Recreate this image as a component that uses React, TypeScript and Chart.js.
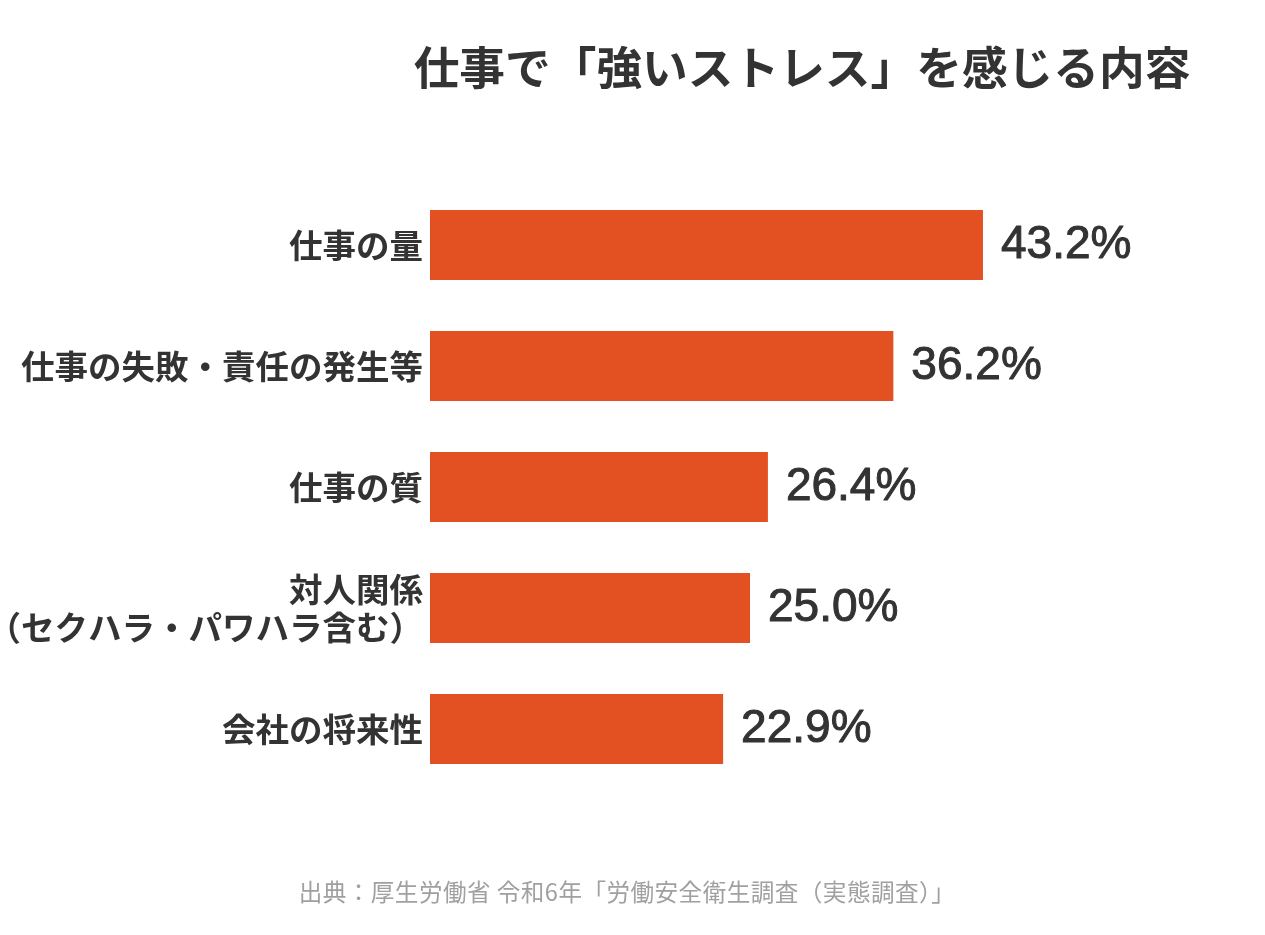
import React, { useEffect, useRef } from "react";
import { Chart, registerables } from "chart.js";

Chart.register(...registerables);

const categories: (string | string[])[] = [
  "仕事の量",
  "仕事の失敗・責任の発生等",
  "仕事の質",
  ["対人関係", "（セクハラ・パワハラ含む）"],
  "会社の将来性",
];
const values = [43.2, 36.2, 26.4, 25.0, 22.9];
const valueLabels = ["43.2%", "36.2%", "26.4%", "25.0%", "22.9%"];
const titleText = "仕事で「強いストレス」を感じる内容";
const sourceText = "出典：厚生労働省 令和6年「労働安全衛生調査（実態調査）」";

const JP = "'Noto Sans CJK JP', 'Noto Sans', sans-serif";

const valueLabelPlugin = {
  id: "valueLabels",
  afterDatasetsDraw(chart: any) {
    const ctx = chart.ctx;
    const meta = chart.getDatasetMeta(0);
    ctx.save();
    ctx.font = "46px 'Liberation Sans', Arial, sans-serif";
    ctx.fillStyle = "#333333";
    ctx.strokeStyle = "#333333";
    ctx.lineWidth = 1;
    ctx.lineJoin = "round";
    ctx.textAlign = "left";
    ctx.textBaseline = "alphabetic";
    meta.data.forEach((bar: any, i: number) => {
      ctx.fillText(valueLabels[i], bar.x + 18, bar.y + 13);
      ctx.strokeText(valueLabels[i], bar.x + 18, bar.y + 13);
    });
    ctx.restore();
  },
};

const textPlugin = {
  id: "titleAndSource",
  afterDraw(chart: any) {
    const ctx = chart.ctx;
    ctx.save();
    ctx.textAlign = "center";
    ctx.textBaseline = "middle";
    ctx.fillStyle = "#333333";
    ctx.font = `bold 45.7px ${JP}`;
    ctx.fillText(titleText, 802, 68);
    ctx.fillStyle = "#a0a0a0";
    ctx.font = `23.6px ${JP}`;
    try {
      (ctx as any).letterSpacing = "0.45px";
    } catch (e) {}
    ctx.fillText(sourceText, 627, 892);
    ctx.restore();
  },
};

export default function App() {
  const ref = useRef<HTMLCanvasElement | null>(null);
  useEffect(() => {
    if (!ref.current) return;
    const chart = new Chart(ref.current, {
      type: "bar",
      data: {
        labels: categories,
        datasets: [
          {
            data: values,
            backgroundColor: "#E35022",
            borderWidth: 0,
            categoryPercentage: 1,
            barPercentage: 70 / 121,
          },
        ],
      },
      options: {
        indexAxis: "y",
        animation: false,
        responsive: false,
        events: [],
        layout: {
          padding: { top: 184.5, bottom: 145.5, left: 0, right: 67 },
        },
        plugins: {
          legend: { display: false },
          tooltip: { enabled: false },
          title: { display: false },
        },
        scales: {
          x: {
            display: false,
            min: 0,
            max: 60,
          },
          y: {
            afterFit(scale: any) {
              scale.width = 430;
            },
            grid: { display: false, drawTicks: false },
            border: { display: false },
            ticks: {
              padding: 7,
              color: "#333333",
              font: { family: JP, size: 33.5, weight: "bold", lineHeight: 1.13 },
            },
          },
        },
      },
      plugins: [valueLabelPlugin, textPlugin],
    });
    return () => chart.destroy();
  }, []);
  return (
    <div style={{ position: "absolute", left: 0, top: 0, width: 1265, height: 935, background: "#fff" }}>
      <canvas ref={ref} width={1265} height={935} style={{ display: "block" }} />
    </div>
  );
}
